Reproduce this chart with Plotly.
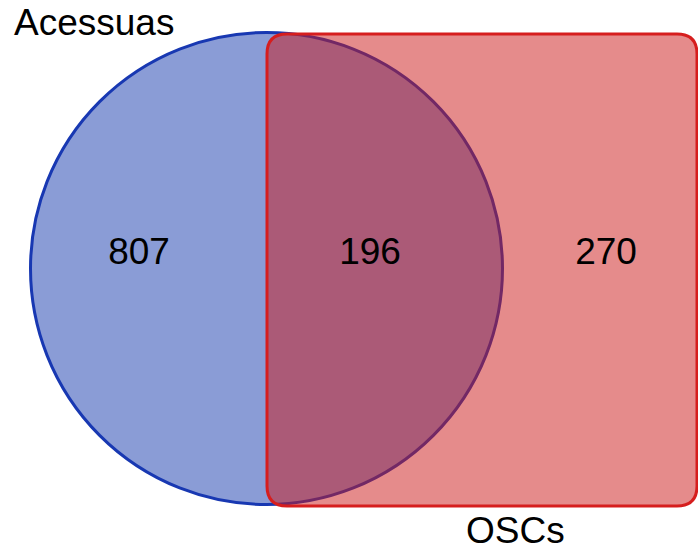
import plotly.graph_objects as go

# Data
set_names = ["Acessuas", "OSCs"]
region_labels = ["807", "196", "270"]   # only Acessuas, both, only OSCs
region_values = [807, 196, 270]

# geometry (pixel space of the 698x550 canvas)
W, H = 698, 550
circ_cx, circ_cy, circ_r = 266.5, 268.5, 236
rect_x0, rect_x1, rect_y0, rect_y1, rect_rad = 267, 697, 34, 506, 20
label_pos_x = [139, 370, 606]
label_pos_y = [255, 255, 255]

blue_line = "rgb(24,56,178)"
blue_fill = "rgba(21,57,173,0.5)"
red_line = "rgb(214,30,30)"
red_fill = "rgba(203,23,23,0.5)"
FONT = "Liberation Sans, Arial, sans-serif"
FS = 37

def rounded_rect(x0, y0, x1, y1, r):
    return (f"M {x0+r},{y0} L {x1-r},{y0} Q {x1},{y0} {x1},{y0+r} "
            f"L {x1},{y1-r} Q {x1},{y1} {x1-r},{y1} "
            f"L {x0+r},{y1} Q {x0},{y1} {x0},{y1-r} "
            f"L {x0},{y0+r} Q {x0},{y0} {x0+r},{y0} Z")

fig = go.Figure()
fig.add_trace(go.Scatter(
    x=label_pos_x, y=label_pos_y, mode="text",
    text=[str(v) for v in region_values],
    textposition="middle center",
    textfont=dict(family=FONT, size=FS, color="black"),
    hoverinfo="skip", showlegend=False,
))

fig.add_shape(type="circle", xref="x", yref="y",
              x0=circ_cx - circ_r, x1=circ_cx + circ_r,
              y0=circ_cy - circ_r, y1=circ_cy + circ_r,
              fillcolor=blue_fill, line=dict(color=blue_line, width=3), layer="below")
fig.add_shape(type="path", xref="x", yref="y",
              path=rounded_rect(rect_x0, rect_y0, rect_x1, rect_y1, rect_rad),
              fillcolor=red_fill, line=dict(color=red_line, width=3), layer="below")

fig.add_annotation(x=12, y=22, xref="x", yref="y", text=set_names[0], showarrow=False,
                   xanchor="left", yanchor="middle",
                   font=dict(family=FONT, size=FS, color="black"))
fig.add_annotation(x=515, y=530, xref="x", yref="y", text=set_names[1], showarrow=False,
                   xanchor="center", yanchor="middle",
                   font=dict(family=FONT, size=FS, color="black"))

fig.update_layout(
    width=W, height=H, margin=dict(l=0, r=0, t=0, b=0),
    paper_bgcolor="white", plot_bgcolor="white",
    xaxis=dict(range=[0, W], visible=False, fixedrange=True),
    yaxis=dict(range=[H, 0], visible=False, fixedrange=True),
    showlegend=False,
)
fig.write_html("out.html", config={"displayModeBar": False},
               post_script="document.body.style.margin='0';document.body.style.overflow='hidden';")
